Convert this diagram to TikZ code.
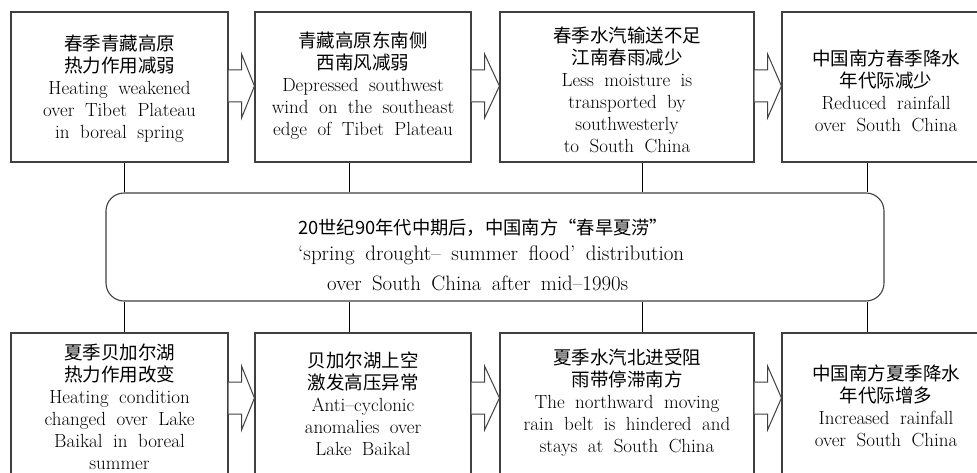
\documentclass[tikz,border=0pt]{standalone}
\usepackage{fontspec}
\usepackage{graphicx}
\newfontfamily\cjk{Noto Sans CJK SC}
\usetikzlibrary{calc}
\newcommand\zh[1]{{\cjk\fontsize{18.5}{22}\selectfont #1}}
\newcommand\boxfont{\fontsize{19}{22}\selectfont\spaceskip=0.55em\relax}
\newcommand\midfont{\fontsize{21}{24}\selectfont\spaceskip=0.5em\relax}
\tikzset{
  boxnode/.style={draw=black!75, line width=1.1pt, minimum height=150pt, inner sep=0pt},
  txt/.style={align=center, font=\boxfont, text=black, inner sep=0pt},
  link/.style={draw=black, line width=1pt},
  blk/.style={draw=black!75, line width=1pt, fill=white, line join=miter},
  midbox/.style={draw=black!75, line width=1.1pt, rounded corners=18pt, minimum width=778pt, minimum height=108pt, inner sep=0pt},
  midtxt/.style={anchor=west, inner sep=0pt, text=black},
}
% block arrow from node #1 to node #2, vertical offset #3 (user units)
\newcommand\blockarr[3]{%
  \draw[blk] ($(#1.east)+(0,#3-16)$) -- ++(13,0) -- ++(0,-16) -- ($(#2.west)+(0,#3)$)
    -- ($(#1.east)+(13,#3+32)$) -- ++(0,-16) -- ++(-13,0);}
\begin{document}
\begin{tikzpicture}[x=1pt,y=-1pt]
\path[use as bounding box] (0,0) rectangle (977,473);
\clip (0,0) rectangle (977,473);
\fill[white] (0,0) rectangle (977,473);

% top row boxes
\node[boxnode, minimum width=217pt] (t1) at (119.5,87) {};
\node[boxnode, minimum width=216pt] (t2) at (363,87) {};
\node[boxnode, minimum width=254pt] (t3) at (627,87) {};
\node[boxnode, minimum width=208pt] (t4) at (886,87) {};
% bottom row boxes
\node[boxnode, minimum width=217pt] (b1) at (119.5,408) {};
\node[boxnode, minimum width=216pt] (b2) at (363,408) {};
\node[boxnode, minimum width=254pt] (b3) at (627,408) {};
\node[boxnode, minimum width=208pt] (b4) at (886,408) {};

% texts top
\node[txt] (t1txt) at (119.5,89) {\zh{春季青藏高原}\\\zh{热力作用减弱}\\Heating weakened\\over Tibet Plateau\\in boreal spring};
\node[txt] (t2txt) at (363,86) {\zh{青藏高原东南侧}\\\zh{西南风减弱}\\Depressed southwest\\wind on the southeast\\edge of Tibet Plateau};
\node[txt] (t3txt) at (627,90) {\zh{春季水汽输送不足}\\\zh{江南春雨减少}\\Less moisture is\\transported by\\southwesterly\\to South China};
\node[txt] (t4txt) at (886,91) {\zh{中国南方春季降水}\\\zh{年代际减少}\\Reduced rainfall\\over South China};
% texts bottom
\node[txt] (b1txt) at (119.5,407) {\zh{夏季贝加尔湖}\\\zh{热力作用改变}\\Heating condition\\changed over Lake\\Baikal in boreal\\summer};
\node[txt] (b2txt) at (363,404) {\zh{贝加尔湖上空}\\\zh{激发高压异常}\\Anti--cyclonic\\anomalies over\\Lake Baikal};
\node[txt] (b3txt) at (627,403) {\zh{夏季水汽北进受阻}\\\zh{雨带停滞南方}\\The northward moving\\rain belt is hindered and\\stays at South China};
\node[txt] (b4txt) at (886,406) {\zh{中国南方夏季降水}\\\zh{年代际增多}\\Increased rainfall\\over South China};

% block arrows
\blockarr{t1}{t2}{-1}
\blockarr{t2}{t3}{-1}
\blockarr{t3}{t4}{-1}
\blockarr{b1}{b2}{-10}
\blockarr{b2}{b3}{-10}
\blockarr{b3}{b4}{-10}

% central rounded box
\node[midbox] (mid) at (495,247) {};
\node[midtxt] (m1) at (298,228) {\resizebox{370pt}{!}{\cjk\fontsize{18.5}{22}\selectfont 20世纪90年代中期后，中国南方“春旱夏涝”}};
\node[midtxt] (m2) at (298,255) {\resizebox{386pt}{!}{\midfont `spring drought-- summer flood' distribution}};
\node[midtxt] (m3) at (327,283) {\resizebox{301pt}{!}{\midfont over South China after mid--1990s}};

% vertical links
\coordinate (u1) at ($(t1.south)+(4.5,0)$);
\coordinate (u2) at ($(t2.south)+(-14,0)$);
\coordinate (u3) at ($(t3.south)+(15,0)$);
\coordinate (u4) at ($(t4.south)+(-19,0)$);
\coordinate (d1) at ($(b1.north)+(4.5,0)$);
\coordinate (d2) at ($(b2.north)+(-14,0)$);
\coordinate (d3) at ($(b3.north)+(15,0)$);
\coordinate (d4) at ($(b4.north)+(-19,0)$);
\foreach \c in {u1,u2,u3,u4} \draw[link] (\c) -- (\c |- mid.north);
\foreach \c in {d1,d2,d3,d4} \draw[link] (\c |- mid.south) -- (\c);
\end{tikzpicture}
\end{document}
